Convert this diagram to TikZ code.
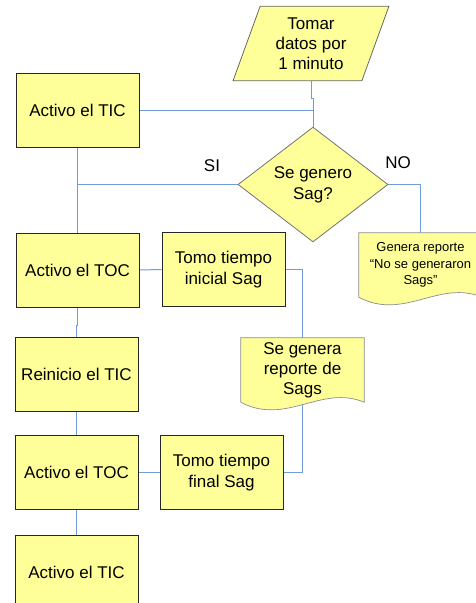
\documentclass[tikz,border=0pt]{standalone}
\usepackage{fontspec}
\setmainfont{Liberation Sans}
\usetikzlibrary{shapes.geometric,backgrounds,calc}
\definecolor{amarillo}{RGB}{255,255,153}
\definecolor{azullinea}{RGB}{112,156,222}
% Hoja de documento con borde ondulado
\newcommand{\hojadoc}[1]{%
  \filldraw[docborde] (#1.north west) -- (#1.north east) -- (#1.south east)
    .. controls ($(#1.south east)+(-43,-18)$) and ($(#1.south west)+(45,24)$) .. (#1.south west) -- cycle;}
\begin{document}
\begin{tikzpicture}[x=1pt,y=-1pt,
    caja/.style={draw=black!85,line width=0.8pt,fill=amarillo,minimum width=123pt,
      minimum height=74pt,inner sep=0pt,align=center,font=\fontsize{17}{21}\selectfont},
    entrada/.style={trapezium,trapezium left angle=70,trapezium right angle=110,
      draw=black!60,line width=0.8pt,fill=amarillo,minimum width=156pt,minimum height=73pt,
      inner sep=0pt,align=center,font=\fontsize{17}{20}\selectfont},
    decision/.style={diamond,draw=black!55,line width=0.8pt,fill=amarillo,minimum width=150pt,
      minimum height=89pt,inner sep=0pt,align=center,font=\fontsize{17}{21}\selectfont},
    hoja/.style={minimum width=123pt,minimum height=64pt,inner sep=0pt,align=center},
    docborde/.style={draw=black!45,line width=0.7pt,fill=amarillo},
    linea/.style={draw=azullinea,line width=1pt},
    etiqueta/.style={font=\fontsize{17}{21}\selectfont}]
    \useasboundingbox (0,0) rectangle (476,603);
    \clip (0,0) rectangle (476,603);

    % Entrada de datos
    \node[entrada] (tomar) at (311,43.5) {Tomar\\datos por\\1 minuto};
    % Decision
    \node[decision] (genero) at (313,184.5) {Se genero\\Sag?};
    \node[etiqueta] (si) at (212,166) {SI};
    \node[etiqueta] (no) at (398,163) {NO};

    % Columna izquierda
    \node[caja] (tic1) at (77.5,110) {Activo el TIC};
    \node[caja] (toc1) at (77.5,270) {Activo el TOC};
    \node[caja] (reinicio) at (76.5,374.5) {Reinicio el TIC};
    \node[caja] (toc2) at (76.5,472.5) {Activo el TOC};
    \node[caja] (tic2) at (76.5,572) {Activo el TIC};

    % Columna central
    \node[caja] (inicial) at (223.5,269.5) {Tomo tiempo\\inicial Sag};
    \node[caja] (final) at (221.5,472.5) {Tomo tiempo\\final Sag};

    % Reportes
    \node[hoja,font=\fontsize{17}{20}\selectfont] (repSags) at (302.5,370) {Se genera\\reporte de\\Sags};
    \node[hoja,font=\fontsize{13}{16.5}\selectfont] (repNo) at (420.5,265) {Genera reporte\\``No se generaron\\Sags''};

    % Conectores y hojas al fondo
    \begin{scope}[on background layer]
      \draw[linea] (tomar.south) -- ++(0,17) -| (genero.north);
      \draw[linea] (tic1.east) -- (tic1.east -| genero.north);
      \draw[linea] (genero.west) -- (genero.west -| tic1.south);
      \draw[linea] (tic1.south) -- (toc1.north);
      \draw[linea] (genero.east) -| (repNo.north);
      \draw[linea] (toc1.east) -- (inicial.west);
      \draw[linea] (inicial.east) -| (repSags.north);
      \draw[linea] (toc1.south) -- ++(0,18) -| (reinicio.north);
      \draw[linea] (reinicio.south) -- (toc2.north);
      \draw[linea] (toc2.east) -- (final.west);
      \draw[linea] (final.east) -| (repSags.south);
      \draw[linea] (toc2.south) -- (tic2.north);
      \hojadoc{repSags}
      \hojadoc{repNo}
    \end{scope}
\end{tikzpicture}
\end{document}
